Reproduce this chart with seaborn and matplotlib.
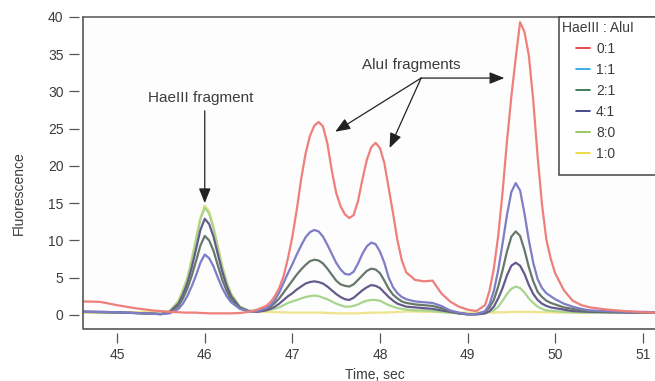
import numpy as np
import pandas as pd
import matplotlib
matplotlib.use("Agg")
import matplotlib.pyplot as plt
from matplotlib.lines import Line2D
from matplotlib.patches import Rectangle
from matplotlib.legend_handler import HandlerTuple
import seaborn as sns

# time axis (s), denser around the peaks
time_sec = [44.6, 44.8, 45.0, 45.2, 45.4, 45.5, 45.6, 45.7, 45.75, 45.8,
            45.85, 45.9, 45.95, 46.0, 46.05, 46.1, 46.15, 46.2, 46.25, 46.3,
            46.4, 46.5, 46.6, 46.7, 46.75, 46.8, 46.85, 46.9, 46.95, 47.0,
            47.05, 47.1, 47.15, 47.2, 47.25, 47.3, 47.35, 47.4, 47.45, 47.5,
            47.55, 47.6, 47.65, 47.7, 47.75, 47.8, 47.85, 47.9, 47.95, 48.0,
            48.05, 48.1, 48.15, 48.2, 48.25, 48.3, 48.4, 48.5, 48.6, 48.7,
            48.8, 48.9, 49.0, 49.1, 49.2, 49.25, 49.3, 49.35, 49.4, 49.45,
            49.5, 49.55, 49.6, 49.65, 49.7, 49.75, 49.8, 49.85, 49.9, 49.95,
            50.0, 50.1, 50.2, 50.3, 50.4, 50.6, 50.8, 51.0, 51.15]

# fluorescence, one list per HaeIII:AluI ratio
fl_0_1 = [1.8, 1.75, 1.3, 0.9, 0.6, 0.5, 0.4, 0.35, 0.32, 0.3,
          0.3, 0.3, 0.25, 0.25, 0.2, 0.2, 0.2, 0.2, 0.2, 0.2,
          0.25, 0.4, 0.7, 1.2, 1.7, 2.5, 3.6, 5.2, 7.6, 10.5,
          14.1, 18.2, 21.6, 24.0, 25.4, 25.9, 25.3, 23.0, 19.4, 16.4,
          14.6, 13.5, 13.0, 13.4, 15.3, 18.2, 20.8, 22.5, 23.1, 22.4,
          20.4, 17.0, 13.6, 10.0, 7.3, 5.7, 4.7, 4.5, 4.6, 2.9,
          1.8, 1.1, 0.7, 0.5, 1.3, 3.2, 6.2, 10.6, 16.5, 23.3,
          29.3, 34.5, 39.3, 38.0, 34.8, 28.8, 21.3, 14.8, 10.1, 7.5,
          5.6, 3.3, 1.9, 1.3, 1.0, 0.7, 0.5, 0.35, 0.3]
fl_1_1 = [0.4, 0.4, 0.35, 0.25, 0.15, 0.1, 0.2, 0.8, 1.5, 2.5,
          3.8, 5.3, 7.0, 8.1, 7.6, 6.5, 5.0, 3.6, 2.5, 1.7,
          0.8, 0.5, 0.5, 0.9, 1.3, 2.0, 3.0, 4.3, 5.6, 6.8,
          8.1, 9.3, 10.4, 11.1, 11.4, 11.2, 10.5, 9.4, 8.2, 7.0,
          6.1, 5.5, 5.4, 5.8, 6.9, 8.2, 9.2, 9.7, 9.5, 8.5,
          7.0, 5.0, 3.7, 2.9, 2.4, 2.1, 1.8, 1.7, 1.6, 1.2,
          0.6, 0.3, 0.1, 0.1, 0.5, 1.4, 3.2, 6.0, 9.6, 13.4,
          16.5, 17.7, 16.7, 13.6, 10.0, 7.0, 4.8, 3.6, 2.9, 2.5,
          2.1, 1.5, 1.1, 0.8, 0.6, 0.5, 0.4, 0.4, 0.35]
fl_2_1 = [0.4, 0.35, 0.3, 0.25, 0.15, 0.1, 0.3, 1.2, 2.2, 3.5,
          5.2, 7.2, 9.3, 10.6, 10.0, 8.6, 6.6, 4.7, 3.2, 2.0,
          0.9, 0.5, 0.5, 0.8, 1.1, 1.6, 2.2, 3.0, 3.8, 4.6,
          5.4, 6.1, 6.7, 7.2, 7.4, 7.3, 6.9, 6.2, 5.4, 4.6,
          4.1, 3.9, 3.8, 4.1, 4.7, 5.3, 5.9, 6.2, 6.1, 5.6,
          4.6, 3.5, 2.7, 2.2, 1.8, 1.6, 1.4, 1.3, 1.2, 0.9,
          0.5, 0.2, 0.1, 0.1, 0.4, 1.0, 2.0, 3.8, 6.0, 8.5,
          10.5, 11.2, 10.6, 8.7, 6.4, 4.5, 3.1, 2.4, 1.9, 1.6,
          1.4, 1.0, 0.8, 0.6, 0.5, 0.4, 0.4, 0.35, 0.3]
fl_4_1 = [0.45, 0.4, 0.35, 0.25, 0.15, 0.1, 0.4, 1.5, 2.7, 4.2,
          6.3, 8.8, 11.4, 12.9, 12.2, 10.5, 8.1, 5.8, 3.9, 2.5,
          1.0, 0.5, 0.4, 0.6, 0.8, 1.1, 1.5, 2.0, 2.5, 2.9,
          3.4, 3.8, 4.2, 4.4, 4.5, 4.4, 4.2, 3.8, 3.3, 2.8,
          2.4, 2.1, 2.0, 2.3, 2.8, 3.3, 3.7, 4.0, 3.9, 3.6,
          3.0, 2.4, 1.9, 1.5, 1.3, 1.1, 1.0, 0.9, 0.8, 0.6,
          0.4, 0.2, 0.05, 0.05, 0.2, 0.5, 1.1, 2.2, 3.6, 5.3,
          6.6, 7.0, 6.6, 5.5, 4.0, 2.8, 2.0, 1.5, 1.2, 1.0,
          0.9, 0.7, 0.5, 0.45, 0.4, 0.35, 0.3, 0.3, 0.3]
fl_8_0 = [0.4, 0.35, 0.3, 0.25, 0.2, 0.15, 0.5, 1.8, 3.2, 4.8,
          7.2, 10.0, 12.8, 14.4, 13.6, 11.6, 9.0, 6.4, 4.3, 2.8,
          1.1, 0.6, 0.5, 0.6, 0.7, 0.8, 1.0, 1.3, 1.6, 1.8,
          2.0, 2.2, 2.4, 2.5, 2.6, 2.5, 2.3, 2.1, 1.8, 1.5,
          1.3, 1.1, 1.1, 1.2, 1.4, 1.7, 1.9, 2.0, 2.0, 1.9,
          1.6, 1.3, 1.1, 0.9, 0.8, 0.7, 0.6, 0.6, 0.5, 0.4,
          0.3, 0.2, 0.1, 0.1, 0.2, 0.4, 0.6, 1.1, 1.9, 2.8,
          3.5, 3.8, 3.6, 3.0, 2.2, 1.6, 1.1, 0.8, 0.6, 0.55,
          0.5, 0.4, 0.35, 0.3, 0.3, 0.3, 0.3, 0.3, 0.3]
fl_1_0 = [0.3, 0.3, 0.3, 0.35, 0.4, 0.45, 0.5, 1.9, 3.4, 5.0,
          7.5, 10.3, 13.1, 14.7, 13.9, 11.9, 9.3, 6.6, 4.5, 2.9,
          1.1, 0.5, 0.4, 0.4, 0.4, 0.35, 0.35, 0.35, 0.3, 0.3,
          0.3, 0.3, 0.3, 0.3, 0.3, 0.3, 0.3, 0.25, 0.25, 0.2,
          0.2, 0.2, 0.2, 0.2, 0.2, 0.25, 0.25, 0.3, 0.3, 0.3,
          0.3, 0.35, 0.35, 0.4, 0.4, 0.45, 0.45, 0.4, 0.4, 0.35,
          0.3, 0.3, 0.3, 0.3, 0.3, 0.3, 0.3, 0.35, 0.35, 0.35,
          0.4, 0.4, 0.4, 0.4, 0.4, 0.4, 0.35, 0.35, 0.35, 0.35,
          0.3, 0.3, 0.3, 0.3, 0.3, 0.3, 0.3, 0.3, 0.3]

ratios = ['0:1', '1:1', '2:1', '4:1', '8:0', '1:0']
series = [fl_0_1, fl_1_1, fl_2_1, fl_4_1, fl_8_0, fl_1_0]

# trace colours (as printed) and the legend swatch colours
trace_colors = {'0:1': '#ee7f7a', '1:1': '#7f7dc6', '2:1': '#67786b',
                '4:1': '#665a8c', '8:0': '#a8d58e', '1:0': '#efe38c'}
legend_colors = ['#e42b2f', '#1d9fe2', '#1d6a3c', '#2b2b7e', '#84c244', '#e6d62a']

df = pd.DataFrame({
    'time': np.tile(time_sec, len(ratios)),
    'fluor': np.concatenate(series),
    'ratio': np.repeat(ratios, len(time_sec)),
})

sns.set_style('white')
plt.rcParams['font.family'] = ['Liberation Sans', 'DejaVu Sans']
txt = '#3c3c3c'

fig, ax = plt.subplots(figsize=(6.55, 3.81), dpi=100)
fig.subplots_adjust(left=83/655, right=1.0, bottom=1-329/381, top=1-17/381)
ax.set_facecolor('#fdfdfe')

sns.lineplot(data=df, x='time', y='fluor', hue='ratio',
             hue_order=['1:0', '8:0', '4:1', '2:1', '1:1', '0:1'],
             palette=trace_colors, lw=1.6, estimator=None, sort=False,
             legend=False, solid_joinstyle='round', ax=ax)

ax.set_xlim(44.61, 51.14)
ax.set_ylim(-1.9, 40)
ax.set_xticks([45, 46, 47, 48, 49, 50, 51])
ax.set_yticks(range(0, 41, 5))

# detached ticks + frame box
for side in ['left', 'bottom']:
    ax.spines[side].set_position(('outward', 3))
    ax.spines[side].set_visible(False)
ax.spines['right'].set_visible(False)
ax.spines['top'].set_color('#555555')
ax.spines['top'].set_linewidth(1.1)
ax.add_line(Line2D([0, 0, 1], [1, 0, 0], transform=ax.transAxes,
                   color='#555555', lw=1.2, clip_on=False))
ax.tick_params(axis='both', direction='out', length=7, width=0.9,
               color='#555555', labelsize=10, labelcolor=txt, pad=4,
               left=True, bottom=True)

ax.set_xlabel('Time, sec', fontsize=10, color=txt)
ax.set_ylabel('Fluorescence', fontsize=10, color=txt)
ax.xaxis.set_label_coords(0.51, -0.125)
ax.yaxis.set_label_coords(-0.10, 0.436)

# annotations
arrow = dict(arrowstyle='-|>,head_length=0.45,head_width=0.18', color='#222222',
             lw=0.9, mutation_scale=20, shrinkA=0, shrinkB=0)
ax.text(45.95, 29.1, 'HaeIII fragment', ha='center', va='center', fontsize=11, color=txt)
ax.annotate('', xy=(46.0, 15.0), xytext=(46.0, 27.4), arrowprops=arrow)
ax.text(48.36, 33.6, 'AluI fragments', ha='center', va='center', fontsize=11, color=txt)
for tip in [(47.49, 24.6), (48.11, 22.4), (49.42, 31.8)]:
    ax.annotate('', xy=tip, xytext=(48.47, 31.8), arrowprops=arrow)

# legend: box runs off the right edge
fig.add_artist(Rectangle((559/655, 1-175/381), 0.2, (175-17)/381,
                         transform=fig.transFigure, facecolor='white',
                         edgecolor='#444444', lw=1.1))
blank = Line2D([], [], color='none')
handles = [(blank, Line2D([], [], color=c, lw=1.2)) for c in legend_colors]
leg = fig.legend(handles, ratios, loc='upper left',
                 bbox_to_anchor=(562/655, 1-21/381), frameon=False,
                 title='HaeIII : AluI', alignment='left', fontsize=10,
                 title_fontsize=10, borderpad=0, borderaxespad=0,
                 handlelength=2.0, handletextpad=0.45, labelspacing=0.5,
                 handler_map={tuple: HandlerTuple(ndivide=None, pad=0)})
for t in leg.get_texts():
    t.set_color(txt)
leg.get_title().set_color(txt)

fig.savefig('out.png', dpi=100)
